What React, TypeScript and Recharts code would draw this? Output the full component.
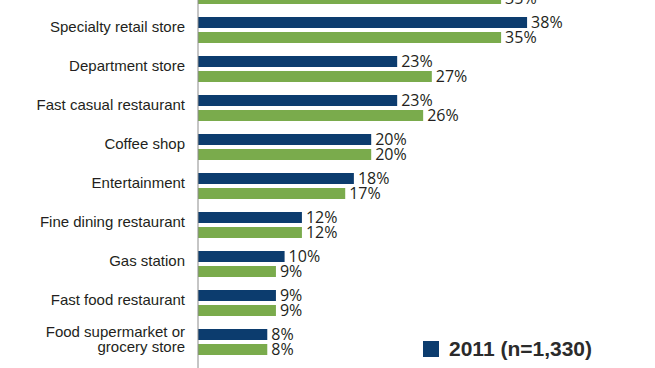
import { BarChart, Bar, XAxis, YAxis, LabelList, Legend } from "recharts";

// the reference is a crop of a taller chart: the first row sits above the frame
const categories = [
  "",
  "Specialty retail store",
  "Department store",
  "Fast casual restaurant",
  "Coffee shop",
  "Entertainment",
  "Fine dining restaurant",
  "Gas station",
  "Fast food restaurant",
  "Food supermarket or\ngrocery store",
];
const share2011 = [null, 38, 23, 23, 20, 18, 12, 10, 9, 8];
const shareOther = [35, 35, 27, 26, 20, 17, 12, 9, 9, 8];
const legendLabels = ["2011 (n=1,330)"];

const BLUE = "#0c3c6e";
const GREEN = "#7aab4c";
const TEXT = "#231f20";

const chartData = categories.map((name, i) => ({
  name,
  y2011: share2011[i],
  other: shareOther[i],
}));

function CategoryTick({ x, y, payload }: any) {
  const lines = String(payload.value).split("\n");
  const lh = 15.5;
  return (
    <text x={x} y={y} textAnchor="end" fontFamily="'Liberation Sans', Arial, sans-serif" fontSize={15} fill={TEXT}>
      {lines.map((line, i) => (
        <tspan key={i} x={x} dy={i === 0 ? 5.25 - 2.5 - ((lines.length - 1) * lh) / 2 : lh}>
          {line}
        </tspan>
      ))}
    </text>
  );
}

function LegendBox() {
  return (
    <div>
      {legendLabels.map((label, i) => (
        <div key={label} style={{ display: "flex", alignItems: "center", height: 16 }}>
          <span style={{ width: 16, height: 16, background: i === 0 ? BLUE : GREEN, display: "inline-block" }} />
          <span
            style={{
              marginLeft: 10,
              fontFamily: "'Liberation Sans', Arial, sans-serif",
              fontWeight: "bold",
              fontSize: 21,
              color: "#2b2b2b",
              lineHeight: "16px",
              whiteSpace: "nowrap",
            }}
          >
            {label}
          </span>
        </div>
      ))}
    </div>
  );
}

const pct = (v: any) => (v == null ? "" : `${v}%`);

export default function App() {
  return (
    <div style={{ position: "fixed", left: 0, top: 0, width: 655, height: 368, overflow: "hidden", background: "#fff" }}>
      <div style={{ position: "absolute", left: 0, top: -29 }}>
        <BarChart
          width={655}
          height={430}
          data={chartData}
          layout="vertical"
          margin={{ top: 0, right: 24, bottom: 0, left: 0 }}
          barSize={11}
          barGap={4}
        >
          <XAxis type="number" domain={[0, 50]} hide />
          <YAxis
            type="category"
            dataKey="name"
            width={198}
            axisLine={{ stroke: "#8c8c8c", strokeWidth: 1 }}
            tickLine={false}
            tickSize={0}
            tickMargin={13}
            tick={<CategoryTick />}
            interval={0}
            padding={{ top: 0, bottom: 40 }}
          />
          <Legend
            layout="vertical"
            align="center"
            verticalAlign="middle"
            content={<LegendBox />}
            wrapperStyle={{ left: 423, top: 370, width: "auto" }}
          />
          <Bar dataKey="y2011" fill={BLUE} isAnimationActive={false}>
            <LabelList
              dataKey="y2011"
              position="right"
              offset={4}
              formatter={pct}
              style={{ fontFamily: "'Open Sans', sans-serif", fontSize: 16, fill: TEXT }}
            />
          </Bar>
          <Bar dataKey="other" fill={GREEN} isAnimationActive={false}>
            <LabelList
              dataKey="other"
              position="right"
              offset={4}
              formatter={pct}
              style={{ fontFamily: "'Open Sans', sans-serif", fontSize: 16, fill: TEXT }}
            />
          </Bar>
        </BarChart>
      </div>
    </div>
  );
}
